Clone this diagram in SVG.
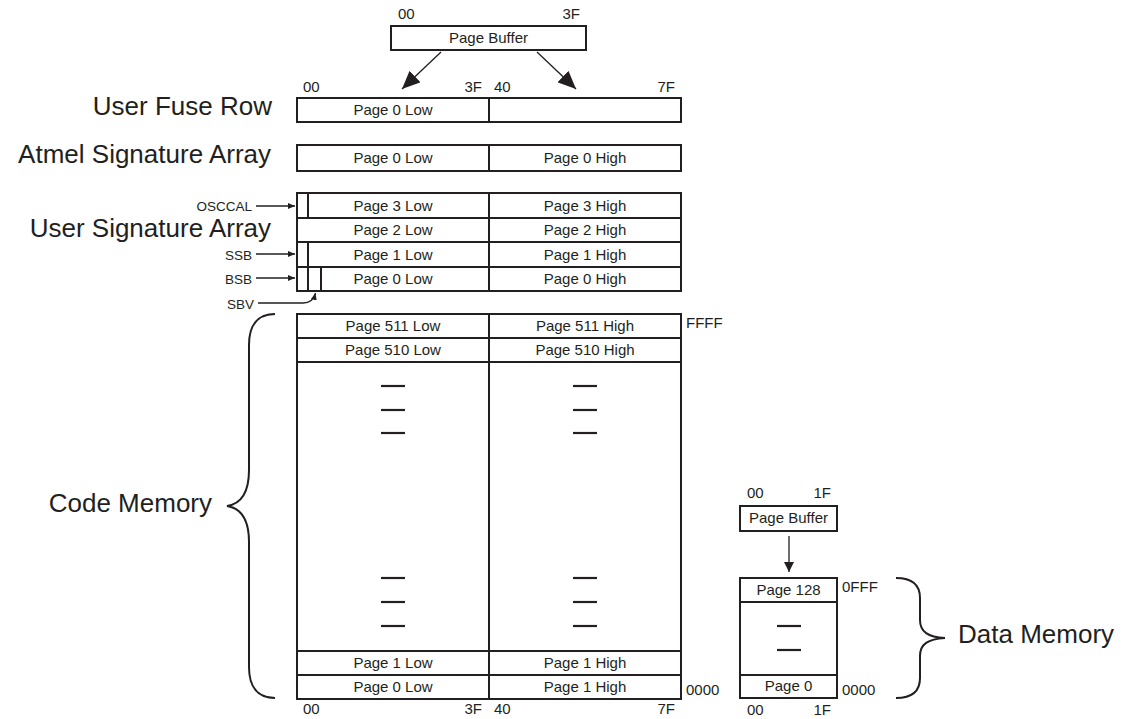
<svg xmlns="http://www.w3.org/2000/svg" width="1134" height="719" viewBox="0 0 1134 719">
<style>
.box{fill:#fff;stroke:#231f20;stroke-width:2}
.ln{fill:none;stroke:#231f20;stroke-width:2}
.thin{fill:none;stroke:#231f20;stroke-width:1.3}
.dash{stroke:#231f20;stroke-width:2.2}
text{font-family:"Liberation Sans",Arial,sans-serif;fill:#231f20}
.cell{font-size:15px;text-anchor:middle}
.hex{font-size:15px}
.big{font-size:26px}
.sm{font-size:13.5px;text-anchor:end}
</style>
<defs>
<marker id="bigArrow" markerUnits="userSpaceOnUse" viewBox="0 0 18 16" markerWidth="18" markerHeight="16" refX="18" refY="8" orient="auto"><path d="M0,0 L18,8 L0,16 z" fill="#231f20"/></marker>
<marker id="smArrow" markerUnits="userSpaceOnUse" viewBox="0 0 7 6" markerWidth="7" markerHeight="6" refX="7" refY="3" orient="auto"><path d="M0,0 L7,3 L0,6 z" fill="#231f20"/></marker>
<marker id="midArrow" markerUnits="userSpaceOnUse" viewBox="0 0 10 10" markerWidth="10" markerHeight="10" refX="10" refY="5" orient="auto"><path d="M0,0 L10,5 L0,10 z" fill="#231f20"/></marker>
</defs>

<g id="page-buffer-top">
<rect class="box" x="391" y="26" width="195" height="24"/>
<text class="cell" x="488.5" y="43">Page Buffer</text>
<text class="hex" x="398" y="19">00</text>
<text class="hex" x="580" y="19" text-anchor="end">3F</text>
</g>

<g id="user-fuse-row">
<text class="big" x="272" y="115" text-anchor="end">User Fuse Row</text>
<rect class="box" x="297" y="98" width="384" height="24"/>
<line class="ln" x1="489" y1="98" x2="489" y2="122"/>
<text class="cell" x="393" y="115">Page 0 Low</text>
<text class="hex" x="303" y="92">00</text>
<text class="hex" x="482" y="92" text-anchor="end">3F</text>
<text class="hex" x="494" y="92">40</text>
<text class="hex" x="675" y="92" text-anchor="end">7F</text>
</g>

<g id="atmel-signature-array">
<text class="big" x="271" y="163" text-anchor="end">Atmel Signature Array</text>
<rect class="box" x="297" y="145" width="384" height="26"/>
<line class="ln" x1="489" y1="145" x2="489" y2="171"/>
<text class="cell" x="393" y="163">Page 0 Low</text>
<text class="cell" x="585" y="163">Page 0 High</text>
</g>

<g id="user-signature-array">
<text class="big" x="271" y="237" text-anchor="end">User Signature Array</text>
<rect class="box" x="297" y="193" width="384" height="98"/>
<line class="ln" x1="297" y1="218" x2="681" y2="218"/>
<line class="ln" x1="297" y1="242" x2="681" y2="242"/>
<line class="ln" x1="297" y1="267" x2="681" y2="267"/>
<line class="ln" x1="489" y1="193" x2="489" y2="291"/>
<line class="ln" x1="308" y1="193" x2="308" y2="218"/>
<line class="ln" x1="308" y1="242" x2="308" y2="291"/>
<line class="ln" x1="321" y1="267" x2="321" y2="291"/>
<text class="cell" x="393" y="211">Page 3 Low</text>
<text class="cell" x="585" y="211">Page 3 High</text>
<text class="cell" x="393" y="235">Page 2 Low</text>
<text class="cell" x="585" y="235">Page 2 High</text>
<text class="cell" x="393" y="260">Page 1 Low</text>
<text class="cell" x="585" y="260">Page 1 High</text>
<text class="cell" x="393" y="284">Page 0 Low</text>
<text class="cell" x="585" y="284">Page 0 High</text>
<text class="sm" x="252" y="211">OSCCAL</text>
<text class="sm" x="252" y="260">SSB</text>
<text class="sm" x="252" y="284">BSB</text>
<text class="sm" x="254" y="309">SBV</text>
</g>

<g id="code-memory">
<text class="big" x="212" y="512" text-anchor="end">Code Memory</text>
<rect class="box" x="297" y="314" width="384" height="385"/>
<line class="ln" x1="297" y1="338" x2="681" y2="338"/>
<line class="ln" x1="297" y1="362" x2="681" y2="362"/>
<line class="ln" x1="297" y1="651" x2="681" y2="651"/>
<line class="ln" x1="297" y1="675" x2="681" y2="675"/>
<line class="ln" x1="489" y1="314" x2="489" y2="699"/>
<text class="cell" x="393" y="331">Page 511 Low</text>
<text class="cell" x="585" y="331">Page 511 High</text>
<text class="cell" x="393" y="355">Page 510 Low</text>
<text class="cell" x="585" y="355">Page 510 High</text>
<text class="cell" x="393" y="668">Page 1 Low</text>
<text class="cell" x="585" y="668">Page 1 High</text>
<text class="cell" x="393" y="692">Page 0 Low</text>
<text class="cell" x="585" y="692">Page 1 High</text>
<g>
<line class="dash" x1="381" y1="386" x2="405" y2="386"/>
<line class="dash" x1="381" y1="410" x2="405" y2="410"/>
<line class="dash" x1="381" y1="433" x2="405" y2="433"/>
<line class="dash" x1="573" y1="386" x2="597" y2="386"/>
<line class="dash" x1="573" y1="410" x2="597" y2="410"/>
<line class="dash" x1="573" y1="433" x2="597" y2="433"/>
<line class="dash" x1="381" y1="578" x2="405" y2="578"/>
<line class="dash" x1="381" y1="602" x2="405" y2="602"/>
<line class="dash" x1="381" y1="626" x2="405" y2="626"/>
<line class="dash" x1="573" y1="578" x2="597" y2="578"/>
<line class="dash" x1="573" y1="602" x2="597" y2="602"/>
<line class="dash" x1="573" y1="626" x2="597" y2="626"/>
</g>
<text class="hex" x="686" y="328">FFFF</text>
<text class="hex" x="686" y="695">0000</text>
<text class="hex" x="303" y="714">00</text>
<text class="hex" x="482" y="714" text-anchor="end">3F</text>
<text class="hex" x="494" y="714">40</text>
<text class="hex" x="675" y="714" text-anchor="end">7F</text>
</g>

<g id="page-buffer-data">
<rect class="box" x="740" y="506" width="97" height="25"/>
<text class="cell" x="788.5" y="523">Page Buffer</text>
<text class="hex" x="747" y="498">00</text>
<text class="hex" x="831" y="498" text-anchor="end">1F</text>
</g>

<g id="data-memory">
<rect class="box" x="740" y="578" width="97" height="120"/>
<line class="ln" x1="740" y1="602" x2="837" y2="602"/>
<line class="ln" x1="740" y1="675" x2="837" y2="675"/>
<text class="cell" x="788.5" y="595">Page 128</text>
<text class="cell" x="788.5" y="691">Page 0</text>
<line class="dash" x1="777" y1="626" x2="801" y2="626"/>
<line class="dash" x1="777" y1="650" x2="801" y2="650"/>
<text class="hex" x="842" y="592">0FFF</text>
<text class="hex" x="842" y="695">0000</text>
<text class="hex" x="747" y="715">00</text>
<text class="hex" x="831" y="715" text-anchor="end">1F</text>
<text class="big" x="958" y="643">Data Memory</text>
</g>

<g id="connectors">
<line class="thin" x1="441" y1="52" x2="402" y2="89" marker-end="url(#bigArrow)"/>
<line class="thin" x1="537" y1="52" x2="576" y2="89" marker-end="url(#bigArrow)"/>
<line class="thin" x1="789" y1="536" x2="789" y2="572" marker-end="url(#midArrow)"/>
<line class="thin" x1="256" y1="206" x2="295" y2="206" marker-end="url(#smArrow)"/>
<line class="thin" x1="256" y1="254" x2="295" y2="254" marker-end="url(#smArrow)"/>
<line class="thin" x1="256" y1="278" x2="295" y2="278" marker-end="url(#smArrow)"/>
<path class="thin" d="M258,303 L303,303 C310,303 314,299 315.5,293" marker-end="url(#smArrow)"/>
<path class="ln" d="M275,314 C258,314 249,325 249,345 L249,470 C249,495 240,504 227,506 C240,508 249,517 249,542 L249,667 C249,687 258,698 275,698"/>
<path class="ln" d="M896,578 C912,578 920,585 920,598 L920,620 C920,632 928,637 945,638 C928,639 920,644 920,656 L920,678 C920,691 912,698 896,698"/>
</g>
</svg>
